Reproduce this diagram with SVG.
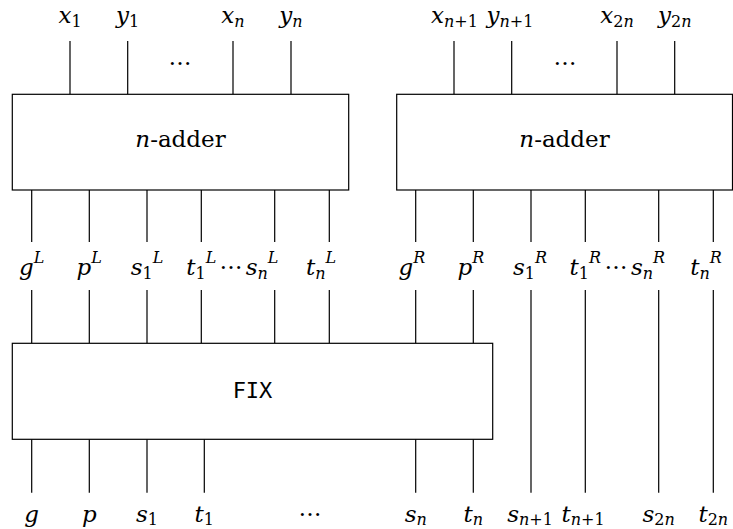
<svg xmlns="http://www.w3.org/2000/svg" width="733" height="529" viewBox="0 0 733 529">
<style>
.box{fill:#fff;stroke:#000;stroke-width:1.2}
.w{stroke:#000;stroke-width:1.2;fill:none}
.m{font-family:'DejaVu Serif','Liberation Serif',serif;font-style:italic;font-size:23px;fill:#000;text-anchor:middle}
.s{font-size:16px}
.r{font-style:normal}
.i{font-style:italic}
.t{font-family:'DejaVu Serif','Liberation Serif',serif;font-size:23px;fill:#000;text-anchor:middle}
.tt{font-family:'DejaVu Sans Mono','Liberation Mono',monospace;font-size:22px;fill:#000;text-anchor:middle}
</style>
<rect width="733" height="529" fill="#fff"/>
<g id="connectors">
<path class="w" d="M70 41V94.3M127.7 41V94.3M233 41V94.3M291 41V94.3M454 41V94.3M511.7 41V94.3M617 41V94.3M674.7 41V94.3"/>
<path class="w" d="M31.7 190V242M89.3 190V242M147 190V242M201.3 190V242M274.7 190V242M329.3 190V242M415.7 190V242M473.3 190V242M531 190V242M585.3 190V242M658.7 190V242M713.3 190V242"/>
<path class="w" d="M31.7 290V343.3M89.3 290V343.3M147 290V343.3M201.3 290V343.3M274.7 290V343.3M329.3 290V343.3M415.7 290V343.3M473.3 290V343.3M531 290V492.7M585.3 290V492.7M658.7 290V492.7M713.3 290V492.7"/>
<path class="w" d="M31.7 439.3V492.7M89.3 439.3V492.7M147 439.3V492.7M204.3 439.3V492.7M415.7 439.3V492.7M473.3 439.3V492.7"/>
</g>
<g id="adderL">
<rect class="box" x="12.3" y="94.3" width="336.4" height="95.7"/>
<text class="t" x="180.5" y="147"><tspan class="i">n</tspan>-adder</text>
</g>
<g id="adderR">
<rect class="box" x="396.7" y="94.3" width="335.8" height="95.7"/>
<text class="t" x="564.5" y="147"><tspan class="i">n</tspan>-adder</text>
</g>
<g id="fix">
<rect class="box" x="12.3" y="343.3" width="480.4" height="96"/>
<text class="tt" x="252.5" y="398.3">FIX</text>
</g>
<g id="inputs">
<text class="m" x="70" y="23">x<tspan class="s r" dy="4">1</tspan></text>
<text class="m" x="127.7" y="23">y<tspan class="s r" dy="4">1</tspan></text>
<text class="m" x="233" y="23">x<tspan class="s" dy="4">n</tspan></text>
<text class="m" x="291" y="23">y<tspan class="s" dy="4">n</tspan></text>
<text class="t" x="180" y="65">…</text>
<text class="m" x="454.5" y="23">x<tspan class="s" dy="4">n<tspan class="r">+1</tspan></tspan></text>
<text class="m" x="510" y="23">y<tspan class="s" dy="4">n<tspan class="r">+1</tspan></tspan></text>
<text class="m" x="617" y="23">x<tspan class="s" dy="4"><tspan class="r">2</tspan>n</tspan></text>
<text class="m" x="674.7" y="23">y<tspan class="s" dy="4"><tspan class="r">2</tspan>n</tspan></text>
<text class="t" x="565" y="65">…</text>
</g>
<g id="midLabels">
<text class="m" x="31.7" y="275">g<tspan class="s" dy="-12">L</tspan></text>
<text class="m" x="89.3" y="275">p<tspan class="s" dy="-12">L</tspan></text>
<text class="m" x="147" y="275">s<tspan class="s r" dy="4">1</tspan><tspan class="s" dy="-16">L</tspan></text>
<text class="m" x="201.3" y="275">t<tspan class="s r" dy="4">1</tspan><tspan class="s" dy="-16">L</tspan></text>
<text class="t" x="231" y="269">…</text>
<text class="m" x="262" y="275">s<tspan class="s" dy="4">n</tspan><tspan class="s" dy="-16">L</tspan></text>
<text class="m" x="321" y="275">t<tspan class="s" dy="4">n</tspan><tspan class="s" dy="-16">L</tspan></text>
<text class="m" x="412" y="275">g<tspan class="s" dy="-12">R</tspan></text>
<text class="m" x="471" y="275">p<tspan class="s" dy="-12">R</tspan></text>
<text class="m" x="530" y="275">s<tspan class="s r" dy="4">1</tspan><tspan class="s" dy="-16">R</tspan></text>
<text class="m" x="585.3" y="275">t<tspan class="s r" dy="4">1</tspan><tspan class="s" dy="-16">R</tspan></text>
<text class="t" x="616" y="269">…</text>
<text class="m" x="648" y="275">s<tspan class="s" dy="4">n</tspan><tspan class="s" dy="-16">R</tspan></text>
<text class="m" x="706" y="275">t<tspan class="s" dy="4">n</tspan><tspan class="s" dy="-16">R</tspan></text>
</g>
<g id="outputs">
<text class="m" x="31.7" y="522">g</text>
<text class="m" x="89.3" y="522">p</text>
<text class="m" x="147" y="522">s<tspan class="s r" dy="3">1</tspan></text>
<text class="m" x="204.3" y="522">t<tspan class="s r" dy="3">1</tspan></text>
<text class="t" x="310" y="516">…</text>
<text class="m" x="415.7" y="522">s<tspan class="s" dy="3">n</tspan></text>
<text class="m" x="473.3" y="522">t<tspan class="s" dy="3">n</tspan></text>
<text class="m" x="530" y="522">s<tspan class="s" dy="3">n<tspan class="r">+1</tspan></tspan></text>
<text class="m" x="583" y="522">t<tspan class="s" dy="3">n<tspan class="r">+1</tspan></tspan></text>
<text class="m" x="658.7" y="522">s<tspan class="s" dy="3"><tspan class="r">2</tspan>n</tspan></text>
<text class="m" x="713.3" y="522">t<tspan class="s" dy="3"><tspan class="r">2</tspan>n</tspan></text>
</g>
</svg>
